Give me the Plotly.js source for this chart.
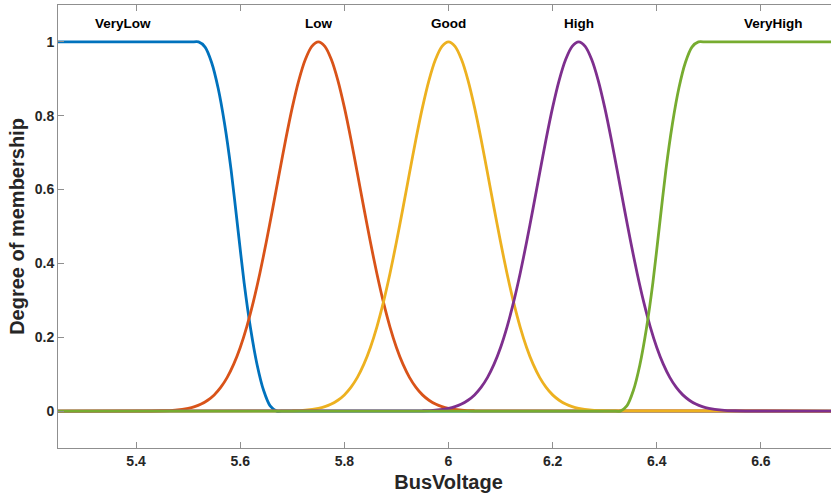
<!DOCTYPE html>
<html>
<head>
<meta charset="utf-8">
<script src="https://cdn.plot.ly/plotly-3.0.1.min.js"></script>
<style>
  html, body { margin: 0; padding: 0; overflow: hidden; background: #ffffff; }
  #chart { width: 840px; height: 502px; }
</style>
</head>
<body>
<div id="chart"></div>
<script>
// Membership functions of the BusVoltage input variable

// VeryLow: z-shaped, falls from 1 to 0 between 5.52 and 5.67
const veryLowX = [5.25, 5.495, 5.5075, 5.52, 5.5325, 5.545, 5.5575, 5.57, 5.5825, 5.595, 5.6075, 5.62, 5.6325, 5.645, 5.6575, 5.67, 5.6825, 5.695, 6.75];
const veryLowY = [1, 1, 1, 1, 0.9861, 0.9444, 0.875, 0.7778, 0.6528, 0.5, 0.3472, 0.2222, 0.125, 0.0556, 0.0139, 0, 0, 0, 0];

// Low: bell centred at 5.75
const lowX = [5.25, 5.45, 5.475, 5.5, 5.5125, 5.525, 5.5375, 5.55, 5.5625, 5.575, 5.5875, 5.6, 5.6125, 5.625, 5.6375, 5.65, 5.6625, 5.675, 5.6875, 5.7, 5.7125, 5.725, 5.7375,
  5.75, 5.7625, 5.775, 5.7875, 5.8, 5.8125, 5.825, 5.8375, 5.85, 5.8625, 5.875, 5.8875, 5.9, 5.9125, 5.925, 5.9375, 5.95, 5.9625, 5.975, 5.9875, 6.0, 6.025, 6.05, 6.75];
const lowY = [0, 0.0009, 0.0027, 0.0076, 0.0122, 0.0192, 0.0294, 0.0439, 0.0642, 0.0914, 0.1271, 0.1724, 0.2283, 0.2950, 0.3720, 0.4578, 0.5498, 0.6444, 0.7370, 0.8226, 0.8960, 0.9523, 0.9879,
  1, 0.9879, 0.9523, 0.8960, 0.8226, 0.7370, 0.6444, 0.5498, 0.4578, 0.3720, 0.2950, 0.2283, 0.1724, 0.1271, 0.0914, 0.0642, 0.0439, 0.0294, 0.0192, 0.0122, 0.0076, 0.0027, 0.0009, 0];

// Good: bell centred at 6.0
const goodX = [5.25, 5.7, 5.725, 5.75, 5.7625, 5.775, 5.7875, 5.8, 5.8125, 5.825, 5.8375, 5.85, 5.8625, 5.875, 5.8875, 5.9, 5.9125, 5.925, 5.9375, 5.95, 5.9625, 5.975, 5.9875,
  6.0, 6.0125, 6.025, 6.0375, 6.05, 6.0625, 6.075, 6.0875, 6.1, 6.1125, 6.125, 6.1375, 6.15, 6.1625, 6.175, 6.1875, 6.2, 6.2125, 6.225, 6.2375, 6.25, 6.275, 6.3, 6.75];
const goodY = [0, 0.0009, 0.0027, 0.0076, 0.0122, 0.0192, 0.0294, 0.0439, 0.0642, 0.0914, 0.1271, 0.1724, 0.2283, 0.2950, 0.3720, 0.4578, 0.5498, 0.6444, 0.7370, 0.8226, 0.8960, 0.9523, 0.9879,
  1, 0.9879, 0.9523, 0.8960, 0.8226, 0.7370, 0.6444, 0.5498, 0.4578, 0.3720, 0.2950, 0.2283, 0.1724, 0.1271, 0.0914, 0.0642, 0.0439, 0.0294, 0.0192, 0.0122, 0.0076, 0.0027, 0.0009, 0];

// High: bell centred at 6.25
const highX = [5.25, 5.95, 5.975, 6.0, 6.0125, 6.025, 6.0375, 6.05, 6.0625, 6.075, 6.0875, 6.1, 6.1125, 6.125, 6.1375, 6.15, 6.1625, 6.175, 6.1875, 6.2, 6.2125, 6.225, 6.2375,
  6.25, 6.2625, 6.275, 6.2875, 6.3, 6.3125, 6.325, 6.3375, 6.35, 6.3625, 6.375, 6.3875, 6.4, 6.4125, 6.425, 6.4375, 6.45, 6.4625, 6.475, 6.4875, 6.5, 6.525, 6.55, 6.75];
const highY = [0, 0.0009, 0.0027, 0.0076, 0.0122, 0.0192, 0.0294, 0.0439, 0.0642, 0.0914, 0.1271, 0.1724, 0.2283, 0.2950, 0.3720, 0.4578, 0.5498, 0.6444, 0.7370, 0.8226, 0.8960, 0.9523, 0.9879,
  1, 0.9879, 0.9523, 0.8960, 0.8226, 0.7370, 0.6444, 0.5498, 0.4578, 0.3720, 0.2950, 0.2283, 0.1724, 0.1271, 0.0914, 0.0642, 0.0439, 0.0294, 0.0192, 0.0122, 0.0076, 0.0027, 0.0009, 0];

// VeryHigh: s-shaped, rises from 0 to 1 between 6.33 and 6.48
const veryHighX = [5.25, 6.305, 6.3175, 6.33, 6.3425, 6.355, 6.3675, 6.38, 6.3925, 6.405, 6.4175, 6.43, 6.4425, 6.455, 6.4675, 6.48, 6.4925, 6.505, 6.75];
const veryHighY = [0, 0, 0, 0, 0.0139, 0.0556, 0.125, 0.2222, 0.3472, 0.5, 0.6528, 0.7778, 0.875, 0.9444, 0.9861, 1, 1, 1, 1];

// Set names and where their labels sit
const setNames = ['VeryLow', 'Low', 'Good', 'High', 'VeryHigh'];
const labelX = [5.375, 5.75, 6.0, 6.25, 6.625];
const labelY = [1.05, 1.05, 1.05, 1.05, 1.05];

const xTicks = [5.4, 5.6, 5.8, 6.0, 6.2, 6.4, 6.6];
const xTickText = ['5.4', '5.6', '5.8', '6', '6.2', '6.4', '6.6'];
const yTicks = [0, 0.2, 0.4, 0.6, 0.8, 1];
const yTickText = ['0', '0.2', '0.4', '0.6', '0.8', '1'];

const colors = ['#0072BD', '#D95319', '#EDB120', '#7E2F8E', '#77AC30'];
const xs = [veryLowX, lowX, goodX, highX, veryHighX];
const ys = [veryLowY, lowY, goodY, highY, veryHighY];

const FONT = 'Liberation Sans, Arial, Helvetica, sans-serif';

const traces = setNames.map((name, i) => ({
  type: 'scatter',
  mode: 'lines',
  name: name,
  x: xs[i],
  y: ys[i],
  line: { color: colors[i], width: 2.8, shape: 'spline', smoothing: 0.7 },
  hoverinfo: 'x+y+name'
}));

const annotations = setNames.map((name, i) => ({
  x: labelX[i],
  y: labelY[i],
  xref: 'x',
  yref: 'y',
  text: name,
  showarrow: false,
  font: { family: FONT, size: 13.5, color: '#000000', weight: 'bold' }
}));

const axisCommon = {
  showgrid: false,
  zeroline: false,
  showline: true,
  linecolor: '#8f8f8f',
  linewidth: 1,
  mirror: 'ticks',
  ticks: 'inside',
  ticklen: 6,
  tickwidth: 1,
  tickcolor: '#8f8f8f',
  tickfont: { family: FONT, size: 14, color: '#262626', weight: 'bold' }
};

const layout = {
  width: 840,
  height: 502,
  margin: { l: 58, r: 1, t: 5, b: 54 },
  paper_bgcolor: '#ffffff',
  plot_bgcolor: '#ffffff',
  showlegend: false,
  xaxis: Object.assign({}, axisCommon, {
    range: [5.25, 6.75],
    tickvals: xTicks,
    ticktext: xTickText,
    title: { text: 'BusVoltage', standoff: 7, font: { family: FONT, size: 20, color: '#262626', weight: 'bold' } }
  }),
  yaxis: Object.assign({}, axisCommon, {
    range: [-0.1, 1.1],
    tickvals: yTicks,
    ticktext: yTickText,
    title: { text: 'Degree of membership', standoff: 4, font: { family: FONT, size: 20, color: '#262626', weight: 'bold' } }
  }),
  annotations: annotations
};

Plotly.newPlot('chart', traces, layout, { displayModeBar: false, staticPlot: true });
</script>
</body>
</html>
